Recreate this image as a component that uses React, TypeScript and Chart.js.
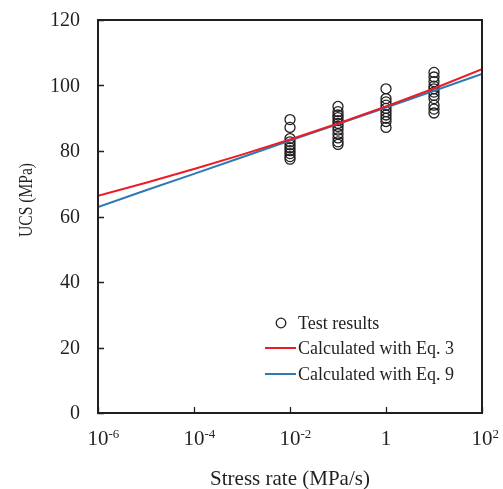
import React, { useEffect, useRef } from "react";
import { Chart, registerables } from "chart.js";

Chart.register(...registerables);

// Test results: stress rate (MPa/s) and measured UCS (MPa)
const testRates = [0.01, 0.1, 1, 10];
const ucsAtRate001 = [89.6, 87.2, 83.8, 82.8, 81.9, 81.0, 80.1, 79.2, 78.3, 77.5];
const ucsAtRate01 = [93.6, 92.0, 91.0, 90.2, 89.3, 88.4, 87.5, 86.4, 85.2, 84.0, 82.8, 82.0];
const ucsAtRate1 = [99.0, 96.0, 95.0, 94.0, 93.0, 92.0, 91.0, 90.0, 89.0, 87.2];
const ucsAtRate10 = [104.0, 102.6, 101.2, 99.8, 99.0, 98.0, 97.0, 96.0, 94.0, 92.8, 91.6];

// Calculated curves, read at each decade
const curveRates = [1e-6, 1e-5, 1e-4, 1e-3, 1e-2, 1e-1, 1, 10, 100];
const eq3Values = [66.3, 70.3, 74.5, 78.9, 83.5, 88.4, 93.6, 99.1, 105.0];
const eq9Values = [62.9, 68.0, 73.0, 78.1, 83.2, 88.2, 93.3, 98.4, 103.5];

// Axis ticks
const yTickValues = [0, 20, 40, 60, 80, 100, 120];
const xTickValues = [1e-6, 1e-4, 1e-2, 1, 1e2];
const xTickBase = ["10", "10", "10", "1", "10"];
const xTickExp = ["-6", "-4", "-2", "", "2"];

const legendLabels = ["Test results", "Calculated with Eq. 3", "Calculated with Eq. 9"];
const xTitle = "Stress rate (MPa/s)";
const yTitle = "UCS (MPa)";

const FONT = '"Liberation Serif", "Times New Roman", serif';
const INK = "#231f20";
const RED = "#ed1c24";
const BLUE = "#2b79b5";

export default function App() {
  const ref = useRef<HTMLCanvasElement | null>(null);

  useEffect(() => {
    document.body.style.margin = "0";
    const canvas = ref.current;
    if (!canvas) return;

    const groups = [ucsAtRate001, ucsAtRate01, ucsAtRate1, ucsAtRate10];
    const testPoints: { x: number; y: number }[] = [];
    groups.forEach((vals, i) => vals.forEach((v) => testPoints.push({ x: testRates[i], y: v })));

    const framePlugin = {
      id: "frame",
      afterDraw(chart: any) {
        const ctx = chart.ctx as CanvasRenderingContext2D;
        const { left, right, top, bottom } = chart.chartArea;
        const xs = chart.scales.x;
        const ys = chart.scales.y;
        ctx.save();
        ctx.strokeStyle = INK;
        ctx.lineWidth = 2;
        ctx.strokeRect(left, top, right - left, bottom - top);
        // tick marks (inward)
        ctx.lineWidth = 1.3;
        ctx.beginPath();
        yTickValues.forEach((v) => {
          const py = Math.round(ys.getPixelForValue(v)) + 0.5;
          ctx.moveTo(left, py);
          ctx.lineTo(left + 6, py);
        });
        xTickValues.forEach((v) => {
          const px = Math.round(xs.getPixelForValue(v)) + 0.5;
          ctx.moveTo(px, bottom);
          ctx.lineTo(px, bottom - 6);
        });
        ctx.stroke();

        ctx.fillStyle = INK;
        // y tick labels
        ctx.font = `20px ${FONT}`;
        ctx.textAlign = "right";
        ctx.textBaseline = "middle";
        yTickValues.forEach((v) => {
          ctx.fillText(String(v), left - 18, ys.getPixelForValue(v) + 1);
        });
        // x tick labels with superscripts
        xTickValues.forEach((v, i) => {
          const px = xs.getPixelForValue(v);
          ctx.font = `21px ${FONT}`;
          ctx.textAlign = "center";
          ctx.textBaseline = "alphabetic";
          const base = xTickBase[i];
          const w = ctx.measureText(base).width;
          ctx.fillText(base, px, 445);
          if (xTickExp[i]) {
            ctx.font = `13px ${FONT}`;
            ctx.textAlign = "left";
            ctx.fillText(xTickExp[i], px + w / 2, 438);
          }
        });
        // axis titles
        ctx.font = `21px ${FONT}`;
        ctx.textAlign = "center";
        ctx.textBaseline = "middle";
        ctx.fillText(xTitle, (left + right) / 2, 479);
        ctx.save();
        ctx.translate(27, 200);
        ctx.rotate(-Math.PI / 2);
        ctx.scale(0.82, 1);
        ctx.font = `19px ${FONT}`;
        ctx.fillText(yTitle, 0, 0);
        ctx.restore();

        // legend
        ctx.font = `18px ${FONT}`;
        ctx.textAlign = "left";
        ctx.textBaseline = "middle";
        const rows = [323, 348, 374];
        ctx.lineWidth = 1.3;
        ctx.beginPath();
        ctx.arc(281, rows[0], 4.8, 0, Math.PI * 2);
        ctx.stroke();
        ctx.lineWidth = 2;
        ctx.strokeStyle = RED;
        ctx.beginPath();
        ctx.moveTo(265, rows[1]);
        ctx.lineTo(296, rows[1]);
        ctx.stroke();
        ctx.strokeStyle = BLUE;
        ctx.beginPath();
        ctx.moveTo(265, rows[2]);
        ctx.lineTo(296, rows[2]);
        ctx.stroke();
        legendLabels.forEach((t, i) => ctx.fillText(t, 298, rows[i] + 1));
        ctx.restore();
      },
    };

    const chart = new Chart(canvas, {
      type: "scatter",
      data: {
        datasets: [
          {
            label: legendLabels[1],
            data: curveRates.map((x, i) => ({ x, y: eq3Values[i] })),
            showLine: true,
            borderColor: RED,
            borderWidth: 2,
            pointRadius: 0,
            fill: false,
            order: 0,
          },
          {
            label: legendLabels[2],
            data: curveRates.map((x, i) => ({ x, y: eq9Values[i] })),
            showLine: true,
            borderColor: BLUE,
            borderWidth: 2,
            pointRadius: 0,
            fill: false,
            order: 0,
          },
          {
            label: legendLabels[0],
            data: testPoints,
            showLine: false,
            pointStyle: "circle",
            pointRadius: 5,
            pointBorderWidth: 1.3,
            pointBorderColor: INK,
            pointBackgroundColor: "rgba(0,0,0,0)",
            order: 1,
          },
        ],
      },
      options: {
        responsive: false,
        animation: false,
        layout: { padding: { left: 98, right: 21, top: 20, bottom: 76 } },
        plugins: { legend: { display: false }, tooltip: { enabled: false } },
        scales: {
          x: { type: "logarithmic", min: 1e-6, max: 1e2, display: false },
          y: { type: "linear", min: 0, max: 120, display: false },
        },
      },
      plugins: [framePlugin],
    });
    return () => chart.destroy();
  }, []);

  return (
    <div style={{ width: 503, height: 489 }}>
      <canvas ref={ref} width={503} height={489} />
    </div>
  );
}
